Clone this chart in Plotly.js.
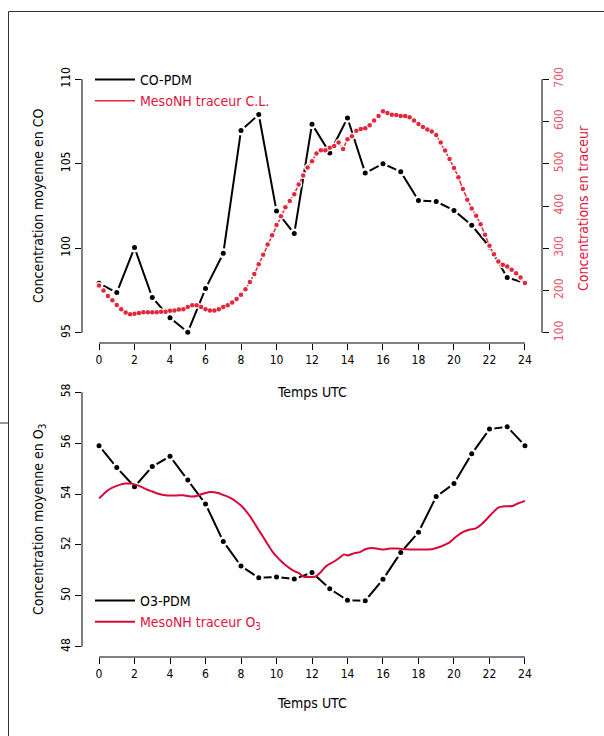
<!DOCTYPE html>
<html>
<head>
<meta charset="utf-8">
<script src="https://cdn.plot.ly/plotly-3.0.1.min.js"></script>
<style>html,body{margin:0;padding:0;background:#fff;}#chart{width:604px;height:736px;}</style>
</head>
<body>
<div id="chart"></div>
<script>
// ---------- data ----------
const hours = [0,1,2,3,4,5,6,7,8,9,10,11,12,13,14,15,16,17,18,19,20,21,22,23,24];
const xTickVals = [0,2,4,6,8,10,12,14,16,18,20,22,24];

// CO observed (left axis)
const coPdm = [97.93,97.38,100.04,97.09,95.89,95.04,97.62,99.70,106.97,107.91,102.20,100.87,107.34,105.63,107.70,104.45,105.00,104.53,102.83,102.76,102.24,101.36,100.08,98.27,97.95];

// MesoNH tracer C.L. (right axis), one value every 15 minutes
const tracerCL = [212,200,187,177,166,156,148,144,145,147,149,149,149,149,150,150,152,153,155,156,
  161,165,165,161,156,153,153,156,161,165,172,180,190,203,220,239,262,285,309,
  331,355,376,397,412,428,451,472,491,506,524,532,532,538,542,550,535,558,565,578,
  582,584,591,602,613,
  624,620,616,615,613,613,610,602,594,587,581,576,568,550,531,511,490,468,440,415,
  394,377,357,332,306,286,269,261,257,249,241,231,218];
const tracerHours = tracerCL.map((_, i) => i * 0.25);

// O3 observed
const o3Pdm = [55.90,55.04,54.29,55.08,55.48,54.55,53.61,52.14,51.17,50.71,50.74,50.66,50.92,50.28,49.83,49.81,50.65,51.70,52.50,53.90,54.41,55.58,56.55,56.64,55.90];

// MesoNH tracer O3
const o3ModelHours = [0,0.25,0.5,0.75,1,1.25,1.5,1.75,2,2.25,2.5,2.75,3,3.25,3.5,3.75,4,4.25,4.5,4.75,
  5,5.25,5.5,5.75,6,6.25,6.5,6.75,7,7.25,7.5,7.75,8,8.25,8.5,8.75,9,9.25,9.5,9.75,
  10,10.25,10.5,10.75,11,11.25,11.5,
  11.85,12.2,12.5,12.8,13.2,13.55,13.8,14.0,14.4,14.7,15.0,15.4,15.8,16.0,16.4,16.8,17.3,17.8,18.4,
  18.8,19.3,19.7,20.1,20.5,20.85,21.2,21.6,22.05,22.5,22.9,23.3,23.6,24];
const o3Model = [53.83,53.99,54.15,54.25,54.32,54.38,54.41,54.41,54.38,54.32,54.24,54.16,54.10,54.03,53.98,53.95,53.94,53.94,53.95,53.95,
  53.92,53.90,53.92,53.99,54.04,54.08,54.07,54.03,53.96,53.90,53.81,53.69,53.55,53.36,53.13,52.86,52.58,52.31,52.03,51.76,
  51.55,51.37,51.21,51.08,50.97,50.90,50.76,
  50.74,50.76,50.94,51.17,51.33,51.50,51.63,51.59,51.68,51.72,51.83,51.88,51.84,51.82,51.86,51.86,51.83,51.82,51.82,
  51.84,51.95,52.08,52.31,52.50,52.60,52.64,52.84,53.17,53.47,53.52,53.53,53.63,53.73];

const coTicks = [95,100,105,110];
const tracerTicks = [100,200,300,400,500,600,700];
const o3Ticks = [48,50,52,54,56,58];

// ---------- style ----------
const FONT = '"Liberation Sans Narrow", "DejaVu Sans Condensed", "Arial Narrow", sans-serif';
const RED_DOT = '#e3283c';
const RED_LINE = '#d9083a';
const RED_TEXT = '#e0143c';
const RED_TICK = '#e8576a';
const TICK_SIZE = 12;
const TITLE_SIZE = 14;

const xDom = [82/604, 542/604];
const topDom = [1 - 343/736, 1 - 69/736];
const botDom = [1 - 657/736, 1 - 382/736];
const xRange = [-0.96, 24.96];

const traces = [
  // top: model tracer (right axis)
  {x: tracerHours, y: tracerCL, xaxis:'x', yaxis:'y2', mode:'lines', line:{color:RED_DOT, width:1.5},
   name:'<span style="color:' + RED_TEXT + '">MesoNH traceur C.L.</span>', legend:'legend', showlegend:true, hoverinfo:'skip'},
  {x: tracerHours, y: tracerCL, xaxis:'x', yaxis:'y2', mode:'markers', marker:{color:'#fff', size:7}, showlegend:false, hoverinfo:'skip'},
  {x: tracerHours, y: tracerCL, xaxis:'x', yaxis:'y2', mode:'markers', marker:{color:RED_DOT, size:4.5}, showlegend:false},
  // top: CO observed
  {x: hours, y: coPdm, xaxis:'x', yaxis:'y', mode:'lines', line:{color:'#000', width:2},
   name:'CO-PDM', legend:'legend', showlegend:true, hoverinfo:'skip'},
  {x: hours, y: coPdm, xaxis:'x', yaxis:'y', mode:'markers', marker:{color:'#fff', size:10}, showlegend:false, hoverinfo:'skip'},
  {x: hours, y: coPdm, xaxis:'x', yaxis:'y', mode:'markers', marker:{color:'#000', size:5}, showlegend:false},
  // bottom: O3 observed
  {x: hours, y: o3Pdm, xaxis:'x2', yaxis:'y3', mode:'lines', line:{color:'#000', width:2},
   name:'O3-PDM', legend:'legend2', showlegend:true, hoverinfo:'skip'},
  {x: hours, y: o3Pdm, xaxis:'x2', yaxis:'y3', mode:'markers', marker:{color:'#fff', size:10}, showlegend:false, hoverinfo:'skip'},
  {x: hours, y: o3Pdm, xaxis:'x2', yaxis:'y3', mode:'markers', marker:{color:'#000', size:5}, showlegend:false},
  // bottom: O3 model
  {x: o3ModelHours, y: o3Model, xaxis:'x2', yaxis:'y3', mode:'lines', line:{color:RED_LINE, width:2, shape:'spline', smoothing:0.6},
   name:'<span style="color:' + RED_TEXT + '">MesoNH traceur O<sub>3</sub></span>', legend:'legend2', showlegend:true}
];

function xAxis(anchor) {
  return {domain:xDom, range:xRange, anchor:anchor, tickmode:'array', tickvals:xTickVals,
    ticks:'outside', ticklen:6, tickwidth:1, tickcolor:'#000', showline:false, showgrid:false, zeroline:false,
    tickfont:{family:FONT, size:TICK_SIZE, color:'#000'}, automargin:false, fixedrange:true};
}
function yAxis(dom, range, ticks, anchor) {
  return {domain:dom, range:range, anchor:anchor, tickmode:'array', tickvals:ticks, tickangle:-90,
    ticks:'outside', ticklen:6, tickwidth:1, tickcolor:'#000', showline:false, showgrid:false, zeroline:false,
    tickfont:{family:FONT, size:TICK_SIZE, color:'#000'}, automargin:false, fixedrange:true};
}

const y2 = yAxis(topDom, [76, 724], tracerTicks, 'x');
y2.overlaying = 'y';
y2.side = 'right';
y2.tickfont = {family:FONT, size:TICK_SIZE, color:RED_TICK};

const axisLine = {color:'#000', width:1};
const frameLine = {color:'#333', width:1};
const shapes = [
  // detached R-style axis lines
  {type:'line', xref:'x', yref:'y domain', x0:0, x1:24, y0:0, y1:0, line:axisLine},
  {type:'line', xref:'x domain', yref:'y', x0:0, x1:0, y0:95, y1:110, line:axisLine},
  {type:'line', xref:'x domain', yref:'y2', x0:1, x1:1, y0:100, y1:700, line:axisLine},
  {type:'line', xref:'x2', yref:'y3 domain', x0:0, x1:24, y0:0, y1:0, line:axisLine},
  {type:'line', xref:'x2 domain', yref:'y3', x0:0, x1:0, y0:48, y1:58, line:axisLine},
  // page frame
  {type:'line', xref:'paper', yref:'paper', x0:8.5/604, x1:1, y0:1-11.5/736, y1:1-11.5/736, line:frameLine},
  {type:'line', xref:'paper', yref:'paper', x0:8.5/604, x1:8.5/604, y0:0, y1:1-11.5/736, line:frameLine},
  {type:'line', xref:'paper', yref:'paper', x0:0, x1:8.5/604, y0:1-423/736, y1:1-423/736, line:frameLine}
];

const annotations = [
  {text:'Temps UTC', xref:'paper', yref:'paper', x:312/604, y:1-392/736, xanchor:'center', yanchor:'middle', showarrow:false, font:{family:FONT, size:TITLE_SIZE, color:'#000'}},
  {text:'Temps UTC', xref:'paper', yref:'paper', x:312/604, y:1-703/736, xanchor:'center', yanchor:'middle', showarrow:false, font:{family:FONT, size:TITLE_SIZE, color:'#000'}},
  {text:'Concentration moyenne en CO', xref:'paper', yref:'paper', x:38/604, y:1-206/736, xanchor:'center', yanchor:'middle', textangle:-90, showarrow:false, font:{family:FONT, size:TITLE_SIZE, color:'#000'}},
  {text:'Concentration moyenne en O<sub>3</sub>', xref:'paper', yref:'paper', x:39/604, y:1-520/736, xanchor:'center', yanchor:'middle', textangle:-90, showarrow:false, font:{family:FONT, size:TITLE_SIZE, color:'#000'}},
  {text:'Concentrations en traceur', xref:'paper', yref:'paper', x:583/604, y:1-208/736, xanchor:'center', yanchor:'middle', textangle:-90, showarrow:false, font:{family:FONT, size:TITLE_SIZE, color:RED_TEXT}}
];

const legendBase = {xanchor:'left', yanchor:'top', bgcolor:'rgba(0,0,0,0)', borderwidth:0,
  font:{family:FONT, size:TITLE_SIZE, color:'#000'}, itemwidth:40, tracegroupgap:0};

const layout = {
  width:604, height:736, margin:{l:0, r:0, t:0, b:0},
  paper_bgcolor:'#fff', plot_bgcolor:'rgba(0,0,0,0)',
  font:{family:FONT, size:TICK_SIZE, color:'#000'},
  showlegend:true, hovermode:false,
  xaxis: xAxis('y'),
  yaxis: yAxis(topDom, [94.4, 110.6], coTicks, 'x'),
  yaxis2: y2,
  xaxis2: xAxis('y3'),
  yaxis3: yAxis(botDom, [47.6, 58.4], o3Ticks, 'x2'),
  legend: Object.assign({}, legendBase, {x:90/604, y:1-64/736, traceorder:'reversed'}),
  legend2: Object.assign({}, legendBase, {x:90/604, y:1-585/736, traceorder:'normal'}),
  shapes: shapes,
  annotations: annotations
};

Plotly.newPlot('chart', traces, layout, {staticPlot:true, displayModeBar:false});
</script>
</body>
</html>
